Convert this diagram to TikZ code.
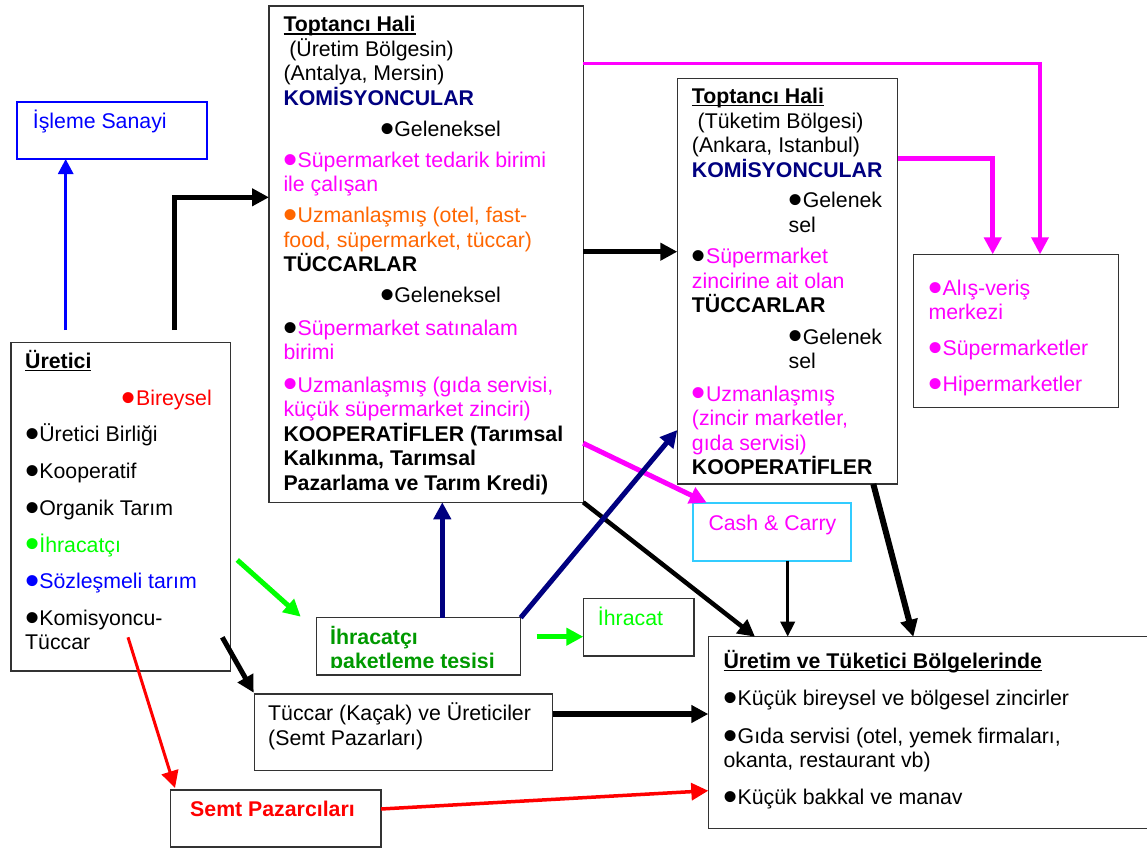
\documentclass[tikz,border=0pt]{standalone}
\usepackage{fontspec}
\setmainfont{Liberation Sans}
\usetikzlibrary{arrows.meta,calc}
\definecolor{mag}{HTML}{FF00FF}
\definecolor{orng}{HTML}{FF6600}
\definecolor{navy}{HTML}{000080}
\definecolor{rd}{HTML}{FF0000}
\definecolor{lime}{HTML}{00FF00}
\definecolor{dgreen}{HTML}{009900}
\definecolor{blu}{HTML}{0000FF}
\definecolor{cyn}{HTML}{33CCFF}
\newcommand\fs{\fontsize{21.3pt}{24.5pt}\selectfont}
\newcommand\ulin[1]{\setbox0=\hbox{#1}\rlap{\rule[-2.6pt]{\wd0}{1.6pt}}\box0}
\newcommand\ind{\hspace*{96.7pt}}
% large round bullet (kept out of the line height)
\newcommand\bul{\smash{\raisebox{-5.9pt}{\scalebox{1.9}{•}}}}
% fixed first-line height, so the node's top lies 20pt above the first baseline
\newcommand\tp{\rule{0pt}{20pt}}
\begin{document}
\begin{tikzpicture}[x=1pt,y=-1pt,
  box/.style={draw=black!80, line width=1.3pt, inner sep=0pt, outer sep=0pt, anchor=north west},
  txt/.style={inner sep=0pt, anchor=north west, yshift=20pt, align=left, font=\fs},
  arr/.style={-{Triangle[length=17pt,width=17pt]}, line join=miter},
  sarr/.style={-{Triangle[length=15pt,width=14pt]}}]
\useasboundingbox (0,0) rectangle (1147,848);
\fill[white] (0,0) rectangle (1147,848);
\clip (0,0) rectangle (1147,848);

% boxes
\node[box, draw=blu, line width=1.8pt, minimum width=190pt, minimum height=57.3pt] (is) at (17.3,101.7) {};
\node[box, minimum width=219.7pt, minimum height=328.3pt] (ur) at (11,342.7) {};
\node[box, minimum width=314.3pt, minimum height=496.3pt] (t1) at (269,6) {};
\node[box, minimum width=220.4pt, minimum height=405.7pt] (t2) at (677.3,78.3) {};
\node[box, minimum width=205pt, minimum height=153pt] (av) at (913.3,254.3) {};
\node[box, draw=cyn, line width=1.8pt, minimum width=157.7pt, minimum height=58pt] (cc) at (693.3,502.7) {};
\node[box, minimum width=204pt, minimum height=57.3pt] (pk) at (316.7,617.7) {};
\node[box, minimum width=110.7pt, minimum height=57.7pt] (ih) at (583.3,598.3) {};
\node[box, minimum width=298pt, minimum height=76.7pt] (tk) at (254.7,694) {};
\node[box, minimum width=210.3pt, minimum height=57pt] (sp) at (170.7,790) {};
\node[box, minimum width=460pt, minimum height=191.6pt] (ut) at (708.3,636.7) {};

% texts (each placed at its first baseline)
\node[txt, text=blu] (isx) at (32.7,128.3) {\tp İşleme Sanayi};

\node[txt] (urx) at (25,368.3) {\tp\ulin{\bfseries Üretici}\\[12.2pt]
\ind{\color{rd}\bul Bireysel}\\[12.2pt]
\bul Üretici Birliği\\[12.2pt]
\bul Kooperatif\\[12.2pt]
\bul Organik Tarım\\[12.2pt]
{\color{lime}\bul İhracatçı}\\[12.2pt]
{\color{blu}\bul Sözleşmeli tarım}\\[12.2pt]
\bul Komisyoncu-\\
Tüccar};

\node[txt] (t1x) at (283.3,31.7) {\tp\ulin{\bfseries Toptancı Hali}\\
\hspace*{5.8pt}(Üretim Bölgesin)\\
(Antalya, Mersin)\\
{\color{navy}\bfseries KOMİSYONCULAR}\\[7pt]
\ind\bul Geleneksel\\[6pt]
{\color{mag}\bul Süpermarket tedarik birimi}\\
{\color{mag}ile çalışan}\\[6.5pt]
{\color{orng}\bul Uzmanlaşmış (otel, fast-}\\
{\color{orng}food, süpermarket, tüccar)}\\
{\bfseries TÜCCARLAR}\\[6.5pt]
\ind\bul Geleneksel\\[7.8pt]
\bul{\color{mag}Süpermarket satınalam}\\
{\color{mag}birimi}\\[7.8pt]
{\color{mag}\bul Uzmanlaşmış (gıda servisi,}\\
{\color{mag}küçük süpermarket zinciri)}\\
{\bfseries KOOPERATİFLER (Tarımsal}\\
{\bfseries Kalkınma, Tarımsal}\\
{\bfseries Pazarlama ve Tarım Kredi)}};

\node[txt] (t2x) at (691.7,103.3) {\tp\ulin{\bfseries Toptancı Hali}\\
\hspace*{5.8pt}(Tüketim Bölgesi)\\
(Ankara, Istanbul)\\
{\color{navy}\bfseries KOMİSYONCULAR}\\[6pt]
\ind\bul Gelenek\\
\ind sel\\[7pt]
\bul{\color{mag}Süpermarket}\\
{\color{mag}zincirine ait olan}\\
{\bfseries TÜCCARLAR}\\[7pt]
\ind\bul Gelenek\\
\ind sel\\[8pt]
{\color{mag}\bul Uzmanlaşmış}\\
{\color{mag}(zincir marketler,}\\
{\color{mag}gıda servisi)}\\
{\bfseries KOOPERATİFLER}};

\node[txt, text=mag] (avx) at (928.3,295) {\tp\bul Alış-veriş\\
merkezi\\[11pt]
\bul Süpermarketler\\[12.2pt]
\bul Hipermarketler};

\node[txt, text=mag] (ccx) at (708.3,530) {\tp Cash \& Carry};
\node[txt, text=lime] (ihx) at (597.7,625) {\tp İhracat};

\begin{scope}
\clip (pk.north west) rectangle ([yshift=7.5pt]pk.south east);
\node[txt, text=dgreen, font=\fs\bfseries] (pkx) at (330,644) {\tp İhracatçı\\ paketleme tesisi};
\end{scope}

\node[txt] (tkx) at (268,720.7) {\tp Tüccar (Kaçak) ve Üreticiler\\ (Semt Pazarları)};
\node[txt, text=rd, font=\fs\bfseries] (spx) at (190,816.7) {\tp Semt Pazarcıları};

\node[txt] (utx) at (723.3,668.3) {\tp\ulin{\bfseries Üretim ve Tüketici Bölgelerinde}\\[12.8pt]
\bul Küçük bireysel ve bölgesel zincirler\\[12.8pt]
\bul Gıda servisi (otel, yemek firmaları,\\
okanta, restaurant vb)\\[12.1pt]
\bul Küçük bakkal ve manav};

% connector end points
\coordinate (bl0) at ([xshift=54.7pt,yshift=12.7pt]ur.north west);
\coordinate (bk0) at ([xshift=163.3pt,yshift=12.7pt]ur.north west);
\coordinate (mg1) at ([yshift=-57.3pt]t1.north east);
\coordinate (mg1c) at (1040,63.3);
\coordinate (mg2) at ([yshift=-80pt]t2.north east);
\coordinate (mg2c) at (992.7,158.3);
\coordinate (mg3) at ([yshift=-437.3pt]t1.north east);
\coordinate (mg3e) at (706.7,502.7);
\coordinate (k2) at (755,636.7);
\coordinate (k3) at (787.7,560.7);
\coordinate (k4) at ([xshift=-24.4pt]t2.south east);
\coordinate (k5) at (913.3,636.7);
\coordinate (nv1) at (442.3,617.7);
\coordinate (nv2) at (677.3,430);
\coordinate (g1) at (237.3,560);
\coordinate (g2) at (300.7,616.7);
\coordinate (g3) at (536.7,636.7);
\coordinate (k6) at (222.3,637.3);
\coordinate (k7) at (253.7,692.7);
\coordinate (k8) at ([yshift=-20pt]tk.north east);
\coordinate (r1) at (128,637.3);
\coordinate (r2) at (175,788);
\coordinate (r3) at ([yshift=-19pt]sp.north east);
\coordinate (r4) at (708.3,790.7);

% connectors
\draw[arr, blu, line width=3pt, -{Triangle[length=15pt,width=15pt]}] (bl0) -- (bl0 |- is.south);
\draw[arr, line width=5.5pt] (bk0) -- (bk0 |- 0,197.3) -- (t1.west |- 0,197.3);
\draw[arr, line width=5pt] (t1.east |- 0,251.7) -- (t2.west |- 0,251.7);
\draw[arr, mag, line width=3.5pt] (mg1) -- (mg1c) -- (mg1c |- av.north);
\draw[arr, mag, line width=4.5pt] (mg2) -- (mg2c) -- (mg2c |- av.north);
\draw[arr, mag, line width=5pt] (mg3) -- (mg3e);
\draw[arr, line width=4.5pt] (t1.south east) -- (k2);
\draw[sarr, line width=3.5pt] (k3) -- (k3 |- ut.north);
\draw[arr, line width=6pt] (k4) -- (k5);
\draw[arr, navy, line width=5pt] (nv1) -- (nv1 |- t1.south);
\draw[arr, navy, line width=5pt] (pk.north east) -- (nv2);
\draw[arr, lime, line width=5pt] (g1) -- (g2);
\draw[arr, lime, line width=5pt] (g3) -- (g3 -| ih.west);
\draw[arr, line width=5pt] (k6) -- (k7);
\draw[arr, line width=6pt] (k8) -- (k8 -| ut.west);
\draw[arr, rd, line width=3pt] (r1) -- (r2);
\draw[arr, rd, line width=3.5pt] (r3) -- (r4);
\end{tikzpicture}
\end{document}
